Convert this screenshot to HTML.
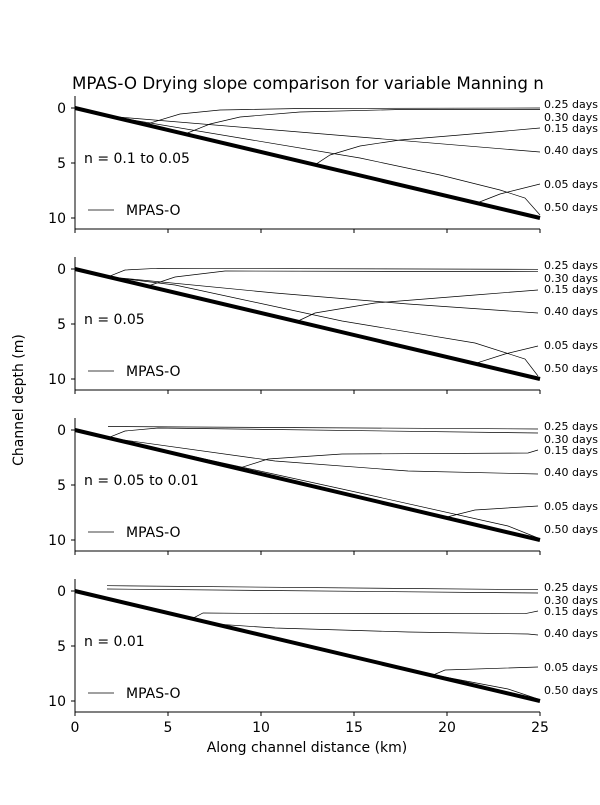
<!DOCTYPE html>
<html><head><meta charset="utf-8"><style>
body{margin:0;background:#fff}
svg text{font-family:"DejaVu Sans","Liberation Sans",sans-serif;fill:#000}
</style></head><body>
<svg width="600" height="800" xmlns="http://www.w3.org/2000/svg">
<rect width="600" height="800" fill="#fff"/>
<text x="72" y="89" font-size="16.7">MPAS-O Drying slope comparison for variable Manning n</text>
<text transform="translate(23,400) rotate(-90)" font-size="14" text-anchor="middle">Channel depth (m)</text>
<text x="307" y="752" font-size="14" text-anchor="middle">Along channel distance (km)</text>
<g font-size="14" text-anchor="middle">
<text x="75" y="732">0</text><text x="168" y="732">5</text><text x="261" y="732">10</text><text x="354" y="732">15</text><text x="447" y="732">20</text><text x="540" y="732">25</text>
</g>
<defs>
<g id="ax">
<line x1="75" y1="96" x2="75" y2="229" stroke="#000" stroke-width="1"/>
<line x1="75" y1="229" x2="540" y2="229" stroke="#000" stroke-width="1"/>
<g stroke="#000"><line x1="75" y1="229" x2="75" y2="233"/><line x1="168" y1="229" x2="168" y2="233"/><line x1="261" y1="229" x2="261" y2="233"/><line x1="354" y1="229" x2="354" y2="233"/><line x1="447" y1="229" x2="447" y2="233"/><line x1="540" y1="229" x2="540" y2="233"/>
<line x1="71" y1="108" x2="75" y2="108"/><line x1="71" y1="163" x2="75" y2="163"/><line x1="71" y1="218" x2="75" y2="218"/></g>
<g font-size="14" text-anchor="end"><text x="66" y="113">0</text><text x="66" y="168">5</text><text x="66" y="223">10</text></g>
<line x1="75" y1="108" x2="540" y2="218" stroke="#000" stroke-width="4"/>
<line x1="88" y1="210" x2="114" y2="210" stroke="#000" stroke-width="0.7"/>
<text x="126" y="215" font-size="14">MPAS-O</text>
<g font-size="11"><text x="544" y="108">0.25 days</text><text x="544" y="121">0.30 days</text><text x="544" y="132">0.15 days</text><text x="544" y="154">0.40 days</text><text x="544" y="188">0.05 days</text><text x="544" y="211">0.50 days</text></g>
</g>
</defs>
<use href="#ax"/>
<use href="#ax" transform="translate(0,161)"/>
<use href="#ax" transform="translate(0,322)"/>
<use href="#ax" transform="translate(0,483)"/>
<g font-size="14"><text x="84" y="163">n = 0.1 to 0.05</text><text x="84" y="324">n = 0.05</text><text x="84" y="485">n = 0.05 to 0.01</text><text x="84" y="646">n = 0.01</text></g>
<g fill="none" stroke="#000" stroke-width="0.7">
<!-- panel 1 -->
<polyline points="145,124.6 180,114 220,110 300,108.5 540,108"/>
<polyline points="185,134 210,124 240,117 300,112 400,109.5 540,109.5"/>
<polyline points="315,164.8 330,155 360,146 400,140 460,135 540,128"/>
<polyline points="110,116.3 540,152"/>
<polyline points="477,203 500,194 540,184"/>
<polyline points="110,116.3 360,158 440,175 500,190 525,198 540,215"/>
<!-- panel 2 -->
<polyline points="108,276.8 125,270 158,268.3 538,269.3"/>
<polyline points="148,286 175,277 225,271 538,271.7"/>
<polyline points="297,321.5 315,313 375,303 475,295 538,290"/>
<polyline points="108,276.8 275,293 408,304 538,313"/>
<polyline points="475,363.6 505,354 538,346"/>
<polyline points="108,276.8 175,285 342,321 475,343 525,359 538,376"/>
<!-- panel 3 -->
<polyline points="108,426.5 538,429"/>
<polyline points="108,437.8 125,431 158,428 538,433"/>
<polyline points="238,468.6 268,459 342,454 528,453 538,450"/>
<polyline points="108,437.8 275,461 408,471 538,474"/>
<polyline points="445,517.5 475,510 538,506"/>
<polyline points="108,437.8 342,489 508,526 538,538"/>
<!-- panel 4 -->
<polyline points="107,585.7 538,589.7"/>
<polyline points="107,589 538,593"/>
<polyline points="192,618.7 203,613 242,613.3 525,613.7 538,611"/>
<polyline points="215,624 275,628 408,632 528,634 538,635"/>
<polyline points="432,675.5 445,670 538,667"/>
<polyline points="400,668.5 508,689 538,699"/>
</g>
</svg>
</body></html>
